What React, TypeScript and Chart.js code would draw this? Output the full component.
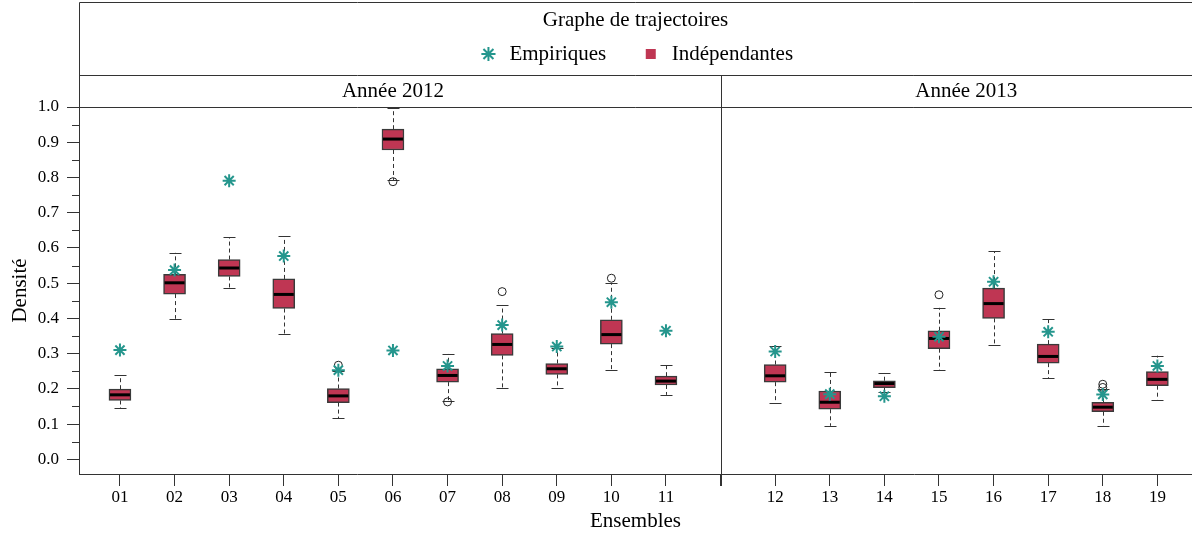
import React, { useEffect, useRef } from 'react';
import { Chart, registerables } from 'chart.js';

Chart.register(...registerables);

// ---- Data ----
const categories = ['01', '02', '03', '04', '05', '06', '07', '08', '09', '10', '11', '12', '13', '14', '15', '16', '17', '18', '19'];
const years = [2012, 2012, 2012, 2012, 2012, 2012, 2012, 2012, 2012, 2012, 2012, 2013, 2013, 2013, 2013, 2013, 2013, 2013, 2013];
const panelTitles = ['Année 2012', 'Année 2013'];

const whiskerLow = [0.145, 0.399, 0.487, 0.355, 0.117, 0.793, 0.166, 0.203, 0.201, 0.253, 0.183, 0.159, 0.095, 0.192, 0.253, 0.324, 0.231, 0.095, 0.169];
const q1 = [0.167, 0.469, 0.519, 0.428, 0.161, 0.878, 0.219, 0.295, 0.241, 0.327, 0.211, 0.219, 0.142, 0.203, 0.314, 0.400, 0.273, 0.135, 0.209];
const median = [0.183, 0.501, 0.543, 0.468, 0.180, 0.909, 0.238, 0.326, 0.257, 0.354, 0.222, 0.237, 0.162, 0.215, 0.343, 0.442, 0.292, 0.148, 0.227];
const q3 = [0.199, 0.525, 0.567, 0.512, 0.201, 0.937, 0.257, 0.357, 0.272, 0.396, 0.236, 0.269, 0.194, 0.223, 0.365, 0.486, 0.327, 0.162, 0.249];
const whiskerHigh = [0.239, 0.586, 0.631, 0.633, 0.250, 0.996, 0.299, 0.438, 0.316, 0.501, 0.268, 0.321, 0.247, 0.245, 0.430, 0.591, 0.397, 0.200, 0.294];
const empirical = [0.310, 0.537, 0.791, 0.577, 0.253, 0.309, 0.265, 0.381, 0.320, 0.446, 0.365, 0.306, 0.185, 0.179, 0.348, 0.504, 0.362, 0.184, 0.265];
const outliers = [[], [], [], [], [0.267], [0.788], [0.163], [0.476], [], [0.514], [], [], [], [], [0.467], [], [], [0.204, 0.213], []];

const yTickValues = [0.0, 0.1, 0.2, 0.3, 0.4, 0.5, 0.6, 0.7, 0.8, 0.9, 1.0];

// ---- Styling ----
const BOX_FILL = '#bf3653';
const BOX_EDGE = '#3a3a3a';
const TEAL = '#25968d';
const LINE = '#333333';
const FONT = "'Liberation Serif', 'Times New Roman', serif";

// slot of each category on the shared x scale (one empty slot between the panels)
const firstYear = years[0];
const positions = categories.map((_, i) => (years[i] === firstYear ? i + 1 : i + 2));
const separatorPos = positions[years.lastIndexOf(firstYear)] + 1;
const panelYears = [firstYear, years[years.length - 1]];
const panelCenters = panelYears.map((yr) => {
  const ps = positions.filter((_, i) => years[i] === yr);
  return (ps[0] + ps[ps.length - 1]) / 2;
});
const xTickValues = Array.from({ length: positions[positions.length - 1] }, (_, k) => k + 1);
const X_MIN = 0.25;
const X_MAX = 20.634;

const decorPlugin = {
  id: 'boxDecor',
  afterDatasetDraw(chart: any, args: any) {
    if (args.meta.type !== 'bar') return;
    const ctx = chart.ctx;
    const y = chart.scales.y;
    ctx.save();
    args.meta.data.forEach((bar: any, i: number) => {
      const cx = Math.round(bar.x) + 0.5;
      const half = bar.width / 2;
      const yHi = y.getPixelForValue(whiskerHigh[i]);
      const yLo = y.getPixelForValue(whiskerLow[i]);
      const yQ3 = y.getPixelForValue(q3[i]);
      const yQ1 = y.getPixelForValue(q1[i]);
      const yMed = y.getPixelForValue(median[i]);
      ctx.strokeStyle = LINE;
      ctx.lineWidth = 1;
      ctx.setLineDash([4, 3]);
      ctx.beginPath();
      ctx.moveTo(cx, yQ3);
      ctx.lineTo(cx, yHi);
      ctx.moveTo(cx, yQ1);
      ctx.lineTo(cx, yLo);
      ctx.stroke();
      ctx.setLineDash([]);
      ctx.beginPath();
      ctx.moveTo(cx - 6, Math.round(yHi) + 0.5);
      ctx.lineTo(cx + 6, Math.round(yHi) + 0.5);
      ctx.moveTo(cx - 6, Math.round(yLo) + 0.5);
      ctx.lineTo(cx + 6, Math.round(yLo) + 0.5);
      ctx.stroke();
      ctx.strokeStyle = '#000';
      ctx.lineWidth = 3;
      ctx.beginPath();
      ctx.moveTo(bar.x - half + 1, yMed);
      ctx.lineTo(bar.x + half - 1, yMed);
      ctx.stroke();
    });
    ctx.restore();
  },
  afterDraw(chart: any) {
    const ctx = chart.ctx;
    const { left, top, bottom } = chart.chartArea;
    const x = chart.scales.x;
    const y = chart.scales.y;
    const xTop = chart.scales.xTop;
    const W = chart.width;
    const frameTop = Math.round(chart.legend.top) + 0.5;
    const headTop = Math.round(xTop.top) + 0.5;
    const areaTop = Math.round(top) + 0.5;
    const lx = Math.round(left) + 0.5;
    ctx.save();
    ctx.strokeStyle = LINE;
    ctx.lineWidth = 1;
    ctx.beginPath();
    ctx.moveTo(lx, frameTop);
    ctx.lineTo(W, frameTop);
    ctx.moveTo(lx, headTop);
    ctx.lineTo(W, headTop);
    ctx.moveTo(lx, areaTop);
    ctx.lineTo(W, areaTop);
    ctx.moveTo(lx, frameTop);
    ctx.lineTo(lx, bottom);
    const sx = Math.round(x.getPixelForValue(separatorPos)) + 0.5;
    ctx.moveTo(sx, headTop);
    ctx.lineTo(sx, bottom + 12);
    for (let k = 0; k < yTickValues.length - 1; k++) {
      const v = (yTickValues[k] + yTickValues[k + 1]) / 2;
      const py = Math.round(y.getPixelForValue(v)) + 0.5;
      ctx.moveTo(left - 7, py);
      ctx.lineTo(left, py);
    }
    ctx.stroke();
    ctx.restore();
  },
};

export default function App() {
  const ref = useRef<HTMLCanvasElement | null>(null);

  useEffect(() => {
    document.body.style.margin = '0';
    Chart.defaults.font.family = FONT;
    Chart.defaults.color = '#000';

    const empiricalData = categories.map((_, i) => ({ x: positions[i], y: empirical[i] }));
    const outlierData = outliers.flatMap((list, i) => list.map((v) => ({ x: positions[i], y: v })));
    const boxData = categories.map((_, i) => ({ x: positions[i], y: [q1[i], q3[i]] }));

    const chart = new Chart(ref.current as HTMLCanvasElement, {
      type: 'bar',
      data: {
        datasets: [
          {
            type: 'scatter',
            label: 'Empiriques',
            data: empiricalData,
            pointStyle: 'star',
            pointRadius: 6.5,
            borderWidth: 2,
            borderColor: TEAL,
            backgroundColor: TEAL,
          } as any,
          {
            type: 'scatter',
            label: 'Atypiques',
            data: outlierData,
            pointStyle: 'circle',
            pointRadius: 4,
            borderWidth: 1,
            borderColor: '#222',
            backgroundColor: 'rgba(255,255,255,0)',
          } as any,
          {
            type: 'bar',
            label: 'Indépendantes',
            data: boxData,
            backgroundColor: BOX_FILL,
            borderColor: BOX_EDGE,
            borderWidth: 1.5,
            borderSkipped: false,
            barThickness: 22,
            pointStyle: 'rect',
          } as any,
        ],
      },
      options: {
        responsive: false,
        animation: false,
        devicePixelRatio: 1,
        events: [],
        layout: { autoPadding: false, padding: { top: 2, left: 0, right: 0, bottom: 0 } },
        plugins: {
          tooltip: { enabled: false },
          legend: {
            display: true,
            position: 'top',
            align: 'center',
            fullSize: false,
            title: {
              display: true,
              text: 'Graphe de trajectoires',
              color: '#000',
              font: { size: 21, family: FONT },
              padding: { top: 7.5, bottom: -25.2 },
            },
            labels: {
              usePointStyle: true,
              boxHeight: 10,
              padding: 34,
              color: '#000',
              font: { size: 21, family: FONT },
              filter: (item: any) => item.datasetIndex !== 1,
              generateLabels: (c: any) => {
                const items = (Chart.defaults.plugins.legend.labels as any).generateLabels(c);
                return items.map((it: any) =>
                  it.datasetIndex === 2 ? { ...it, strokeStyle: BOX_FILL, lineWidth: 0 } : it
                );
              },
            },
          },
        },
        scales: {
          x: {
            type: 'linear',
            position: 'bottom',
            min: X_MIN,
            max: X_MAX,
            offset: false,
            afterBuildTicks: (scale: any) => {
              scale.ticks = xTickValues.map((v) => ({ value: v }));
            },
            afterFit: (scale: any) => {
              scale.height = 62;
            },
            ticks: {
              autoSkip: false,
              maxRotation: 0,
              padding: 1,
              color: '#000',
              font: { size: 17, family: FONT },
              callback: (value: any) => {
                const idx = positions.indexOf(Number(value));
                return idx >= 0 ? categories[idx] : '';
              },
            },
            grid: { drawOnChartArea: false, drawTicks: true, tickLength: 12, tickColor: LINE, offset: false },
            border: { display: true, color: LINE, width: 1 },
            title: {
              display: true,
              text: 'Ensembles',
              color: '#000',
              font: { size: 21, family: FONT },
              padding: { top: 0, bottom: 2.4 },
            },
          },
          xTop: {
            type: 'linear',
            position: 'top',
            min: X_MIN,
            max: X_MAX,
            offset: false,
            afterBuildTicks: (scale: any) => {
              scale.ticks = panelCenters.map((v) => ({ value: v }));
            },
            afterFit: (scale: any) => {
              scale.height = 32.5;
            },
            ticks: {
              autoSkip: false,
              maxRotation: 0,
              padding: 3,
              color: '#000',
              font: { size: 21, family: FONT },
              callback: (value: any) => {
                const idx = panelCenters.indexOf(Number(value));
                return idx >= 0 ? panelTitles[idx] : '';
              },
            },
            grid: { display: false, drawTicks: false, offset: false },
            border: { display: false },
          },
          y: {
            type: 'linear',
            position: 'left',
            min: -0.0417,
            max: 1.0,
            afterBuildTicks: (scale: any) => {
              scale.ticks = yTickValues.map((v) => ({ value: v }));
            },
            afterFit: (scale: any) => {
              scale.width = 79;
            },
            ticks: {
              padding: 8,
              color: '#000',
              font: { size: 17, family: FONT },
              callback: (value: any) => Number(value).toFixed(1),
            },
            grid: { drawOnChartArea: false, drawTicks: true, tickLength: 12, tickColor: LINE },
            border: { display: true, color: LINE, width: 1 },
            title: {
              display: true,
              text: 'Densité',
              color: '#000',
              font: { size: 21, family: FONT },
              padding: { top: 7.4, bottom: 0 },
            },
          },
        },
      } as any,
      plugins: [decorPlugin],
    });

    return () => chart.destroy();
  }, []);

  return (
    <div style={{ width: 1192, height: 536 }}>
      <canvas ref={ref} width={1192} height={536} style={{ display: 'block' }} />
    </div>
  );
}
